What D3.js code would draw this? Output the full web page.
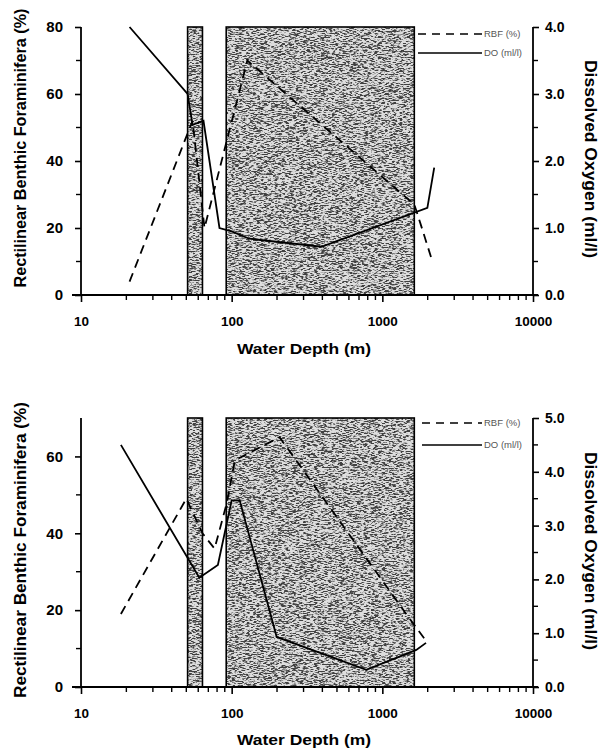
<!DOCTYPE html>
<html><head><meta charset="utf-8">
<script src="https://cdn.jsdelivr.net/npm/d3@7"></script>
<style>
body{margin:0;background:#fff;}
text{font-family:"Liberation Sans",Arial,sans-serif;}
</style></head>
<body>
<svg id="c" width="602" height="748"></svg>
<script>
// ---------- data ----------
const depthTicks = [10, 100, 1000, 10000];
const shadedZones = [[51, 64], [92, 1630]];

// top panel
const topRbfDepth = [21, 55, 66, 127, 1630, 1800, 2150];
const topRbf      = [4, 52, 20, 70, 27, 21, 10];
const topDoDepth  = [21, 51, 55, 65, 83, 100, 131, 394, 1990, 2210];
const topDo       = [4.0, 3.0, 2.54, 2.6, 1.0, 0.95, 0.84, 0.72, 1.3, 1.9];
const topLeftTicks = [0, 20, 40, 60, 80];
const topRightTicks = [0, 1, 2, 3, 4];

// bottom panel
const botRbfDepth = [18.4, 50, 64, 77, 93, 105, 208, 1440, 1950];
const botRbf      = [19, 49, 40, 36, 48, 59, 65, 19, 12];
const botDoDepth  = [18.4, 61, 81, 100, 113, 199, 783, 1680, 1950];
const botDo       = [4.5, 2.03, 2.27, 3.47, 3.47, 0.93, 0.32, 0.69, 0.82];
const botLeftTicks = [0, 20, 40, 60];
const botRightTicks = [0, 1, 2, 3, 4, 5];

const legendLabels = ["RBF (%)", "DO (ml/l)"];
const xTitle = "Water Depth (m)";
const yLeftTitle = "Rectilinear Benthic Foraminifera (%)";
const yRightTitle = "Dissolved Oxygen (ml/l)";

// ---------- drawing ----------
const svg = d3.select("#c");
const defs = svg.append("defs");
const f = defs.append("filter").attr("id","tex").attr("x",0).attr("y",0).attr("width",1).attr("height",1)
  .attr("color-interpolation-filters","sRGB");
f.append("feTurbulence").attr("type","fractalNoise").attr("baseFrequency","0.28 1.3").attr("numOctaves",2).attr("seed",7).attr("result","noise");
f.append("feColorMatrix").attr("in","noise").attr("type","matrix")
  .attr("values","0 0 0 0 0.25  0 0 0 0 0.25  0 0 0 0 0.25  6 0 0 0 -2.75").attr("result","dots");
f.append("feFlood").attr("flood-color","#dedede").attr("result","white");
const fm = f.append("feMerge");
fm.append("feMergeNode").attr("in","white");
fm.append("feMergeNode").attr("in","dots");

const x = d3.scaleLog().domain([10, 10000]).range([81, 533]);

function panel(cfg){
  const g = svg.append("g");
  const yL = d3.scaleLinear().domain([0, cfg.leftMax]).range([cfg.y0, cfg.yTop]);
  const yR = d3.scaleLinear().domain([0, cfg.rightMax]).range([cfg.y0, cfg.yTop]);

  // shaded zones
  shadedZones.forEach(z => {
    g.append("rect").attr("x", x(z[0])).attr("y", cfg.yTop)
      .attr("width", x(z[1]) - x(z[0])).attr("height", cfg.y0 - cfg.yTop)
      .attr("fill","#fff").attr("filter","url(#tex)");
    g.append("rect").attr("x", x(z[0])).attr("y", cfg.yTop)
      .attr("width", x(z[1]) - x(z[0])).attr("height", cfg.y0 - cfg.yTop)
      .attr("fill","none").attr("stroke","#000").attr("stroke-width",1.6);
  });

  // lines
  const lineL = d3.line().x(d => x(d[0])).y(d => yL(d[1]));
  const lineR = d3.line().x(d => x(d[0])).y(d => yR(d[1]));
  g.append("path").attr("d", lineL(cfg.rbfDepth.map((d,i)=>[d, cfg.rbf[i]])))
    .attr("fill","none").attr("stroke","#000").attr("stroke-width",1.8).attr("stroke-dasharray","9,6");
  g.append("path").attr("d", lineR(cfg.doDepth.map((d,i)=>[d, cfg.do[i]])))
    .attr("fill","none").attr("stroke","#000").attr("stroke-width",1.8);

  // x axis
  const xAxis = d3.axisBottom(x).tickValues(depthTicks).tickFormat(d3.format("d")).tickSize(7).tickPadding(14);
  const xg = g.append("g").attr("transform",`translate(0,${cfg.y0})`).call(xAxis);
  xg.select(".domain").remove();
  const minors = [];
  [10,100,1000].forEach(b => { for(let k=2;k<=9;k++) minors.push(b*k); });
  xg.selectAll(".minor").data(minors).join("line").attr("class","minor")
    .attr("x1",d=>x(d)).attr("x2",d=>x(d)).attr("y1",0).attr("y2",5).attr("stroke","#000").attr("stroke-width",1.4);
  g.append("line").attr("x1",72).attr("x2",538).attr("y1",cfg.y0).attr("y2",cfg.y0).attr("stroke","#000").attr("stroke-width",1.8);
  xg.selectAll(".tick line").attr("stroke-width",1.6);
  xg.selectAll(".tick text").attr("font-size",13.5).attr("font-weight","bold").attr("fill","#000");

  // left axis
  const lAxis = d3.axisLeft(yL).tickValues(cfg.leftTicks).tickSize(6).tickPadding(12);
  const lg = g.append("g").attr("transform",`translate(81,0)`).call(lAxis);
  lg.select(".domain").attr("stroke-width",1.8).attr("d",`M0,${cfg.yTop}V${cfg.y0}`);
  lg.selectAll(".tick line").attr("stroke-width",1.6);
  lg.selectAll(".tick text").attr("font-size",15).attr("font-weight","bold").attr("fill","#000");
  const lMin = d3.range(10, cfg.leftMax, 20);
  lg.selectAll(".minor").data(lMin).join("line").attr("class","minor")
    .attr("x1",-5).attr("x2",0).attr("y1",d=>yL(d)).attr("y2",d=>yL(d)).attr("stroke","#000").attr("stroke-width",1.4);

  // right axis
  const rAxis = d3.axisRight(yR).tickValues(cfg.rightTicks).tickFormat(d3.format(".1f")).tickSize(6).tickPadding(6);
  const rg = g.append("g").attr("transform",`translate(533,0)`).call(rAxis);
  rg.select(".domain").attr("stroke-width",1.8).attr("d",`M0,${cfg.yTop}V${cfg.y0}`);
  rg.selectAll(".tick line").attr("stroke-width",1.6);
  rg.selectAll(".tick text").attr("font-size",14).attr("font-weight","bold").attr("fill","#000");
  const rMin = d3.range(0.5, cfg.rightMax, 1);
  rg.selectAll(".minor").data(rMin).join("line").attr("class","minor")
    .attr("x1",0).attr("x2",5).attr("y1",d=>yR(d)).attr("y2",d=>yR(d)).attr("stroke","#000").attr("stroke-width",1.4);

  // legend
  const lgx0 = cfg.legX0, lgx1 = 482;
  g.append("line").attr("x1",lgx0).attr("x2",lgx1).attr("y1",cfg.legY[0]).attr("y2",cfg.legY[0])
    .attr("stroke","#000").attr("stroke-width",1.4).attr("stroke-dasharray","8,6");
  g.append("line").attr("x1",lgx0).attr("x2",lgx1).attr("y1",cfg.legY[1]).attr("y2",cfg.legY[1])
    .attr("stroke","#000").attr("stroke-width",1.4);
  legendLabels.forEach((t,i) => {
    g.append("text").attr("x",484).attr("y",cfg.legY[i]).attr("dy","0.35em")
      .attr("font-size",9.5).attr("fill","#555").text(t);
  });

  // titles
  g.append("text").attr("transform",`translate(${20},${cfg.lTitleY}) rotate(-90)`)
    .attr("text-anchor","middle").attr("dy","0.35em").attr("font-size",16).attr("font-weight","bold")
    .attr("textLength",cfg.lTitleLen).attr("lengthAdjust","spacingAndGlyphs").text(yLeftTitle);
  g.append("text").attr("transform",`translate(${591},${cfg.rTitleY}) rotate(90)`)
    .attr("text-anchor","middle").attr("dy","0.35em").attr("font-size",16).attr("font-weight","bold")
    .attr("textLength",198).attr("lengthAdjust","spacingAndGlyphs").text(yRightTitle);
  g.append("text").attr("x",304).attr("y",cfg.xTitleY).attr("dy","0.35em")
    .attr("text-anchor","middle").attr("font-size",15.5).attr("font-weight","bold")
    .attr("textLength",134).attr("lengthAdjust","spacingAndGlyphs").text(xTitle);
}

panel({y0:295, yTop:27, leftMax:80, rightMax:4, leftTicks:topLeftTicks, rightTicks:topRightTicks,
  rbfDepth:topRbfDepth, rbf:topRbf, doDepth:topDoDepth, do:topDo,
  legY:[34,53], legX0:418, lTitleY:148, lTitleLen:279, rTitleY:159, xTitleY:349});
panel({y0:687, yTop:418, leftMax:70, rightMax:5, leftTicks:botLeftTicks, rightTicks:botRightTicks,
  rbfDepth:botRbfDepth, rbf:botRbf, doDepth:botDoDepth, do:botDo,
  legY:[423,445], legX0:422, lTitleY:550, lTitleLen:296, rTitleY:551, xTitleY:740});
</script>
</body></html>
